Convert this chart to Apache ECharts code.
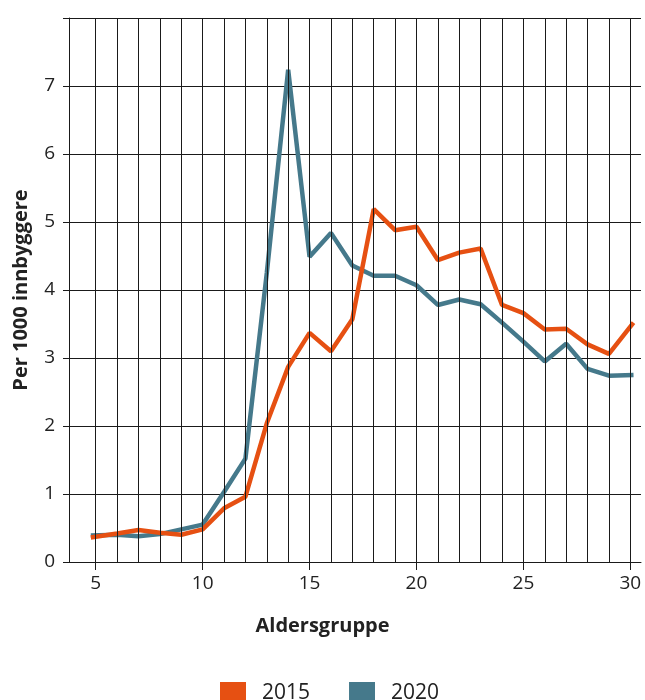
<!DOCTYPE html>
<html>
<head>
<meta charset="utf-8">
<script src="https://cdn.jsdelivr.net/npm/echarts@6/dist/echarts.min.js"></script>
<style>
html,body{margin:0;padding:0;background:#fff;}
#chart{width:645px;height:700px;}
</style>
</head>
<body>
<div id="chart"></div>
<script>
// Data
var ageGroups = [4.77, 6, 7, 8, 9, 10, 11, 12, 13, 14, 15, 16, 17, 18, 19, 20, 21, 22, 23, 24, 25, 26, 27, 28, 29, 30.15];
var values2015 = [0.36, 0.42, 0.47, 0.43, 0.40, 0.48, 0.79, 0.96, 2.04, 2.87, 3.37, 3.10, 3.57, 5.19, 4.88, 4.93, 4.44, 4.55, 4.61, 3.78, 3.66, 3.42, 3.43, 3.20, 3.06, 3.52];
var values2020 = [0.39, 0.40, 0.38, 0.41, 0.48, 0.55, 1.03, 1.52, 4.25, 7.24, 4.49, 4.84, 4.36, 4.21, 4.21, 4.07, 3.78, 3.86, 3.79, 3.52, 3.24, 2.95, 3.21, 2.84, 2.74, 2.75];
var xTickLabels = [5, 10, 15, 20, 25, 30];
var xGridValues = [5, 6, 7, 8, 9, 10, 11, 12, 13, 14, 15, 16, 17, 18, 19, 20, 21, 22, 23, 24, 25, 26, 27, 28, 29, 30];
var seriesNames = ['2015', '2020'];

var FONT = "'Open Sans', 'Noto Sans', sans-serif";
var TXT = '#222222';
var GRID = '#1a1a1a';

function pairs(xs, ys) { return xs.map(function (x, i) { return [x, ys[i]]; }); }

var chart = echarts.init(document.getElementById('chart'), null, {renderer: 'canvas'});
chart.setOption({
  animation: false,
  backgroundColor: '#ffffff',
  textStyle: {fontFamily: FONT},
  title: {
    text: 'Aldersgruppe',
    left: 'center',
    top: 611,
    textStyle: {fontFamily: FONT, fontSize: 20, fontWeight: 'bold', color: TXT}
  },
  grid: {left: 69, right: 4, top: 18, bottom: 138, containLabel: false},
  legend: {
    data: seriesNames,
    left: 215,
    top: 677,
    icon: 'rect',
    itemWidth: 26,
    itemHeight: 23,
    itemGap: 39,
    textStyle: {fontFamily: FONT, fontSize: 21, color: TXT, padding: [0, 0, 0, 11]}
  },
  xAxis: {
    type: 'value',
    min: 3.75,
    max: 30.5,
    interval: 5,
    axisLine: {show: true, onZero: false, lineStyle: {color: GRID, width: 1}},
    axisTick: {show: true, length: 8, customValues: xTickLabels, lineStyle: {color: GRID, width: 1}},
    axisLabel: {
      customValues: xTickLabels,
      margin: 12,
      fontFamily: FONT, fontSize: 19, color: TXT
    },
    splitLine: {show: false}
  },
  yAxis: {
    type: 'value',
    min: 0,
    max: 8,
    interval: 1,
    name: 'Per 1000 innbyggere',
    nameLocation: 'middle',
    nameGap: 38,
    nameTextStyle: {fontFamily: FONT, fontSize: 20, fontWeight: 'bold', color: TXT},
    axisLine: {show: true, lineStyle: {color: GRID, width: 1}},
    axisTick: {show: true, length: 6, lineStyle: {color: GRID, width: 1}},
    axisLabel: {
      margin: 14,
      fontFamily: FONT, fontSize: 19, color: TXT,
      formatter: function (v) { return v === 8 ? '' : String(v); }
    },
    splitLine: {show: true, lineStyle: {color: GRID, width: 1}}
  },
  series: [
    {
      name: '2020',
      type: 'line',
      data: pairs(ageGroups, values2020),
      symbol: 'none',
      color: '#45798b',
      lineStyle: {width: 4.5, color: '#45798b'},
      z: 3,
      markLine: {
        silent: true,
        symbol: 'none',
        label: {show: false},
        animation: false,
        lineStyle: {color: GRID, width: 1, type: 'solid'},
        emphasis: {disabled: true},
        data: xGridValues.map(function (v) { return {xAxis: v}; })
      }
    },
    {
      name: '2015',
      type: 'line',
      data: pairs(ageGroups, values2015),
      symbol: 'none',
      color: '#e65012',
      lineStyle: {width: 4.5, color: '#e65012'},
      z: 4
    }
  ]
});
</script>
</body>
</html>
